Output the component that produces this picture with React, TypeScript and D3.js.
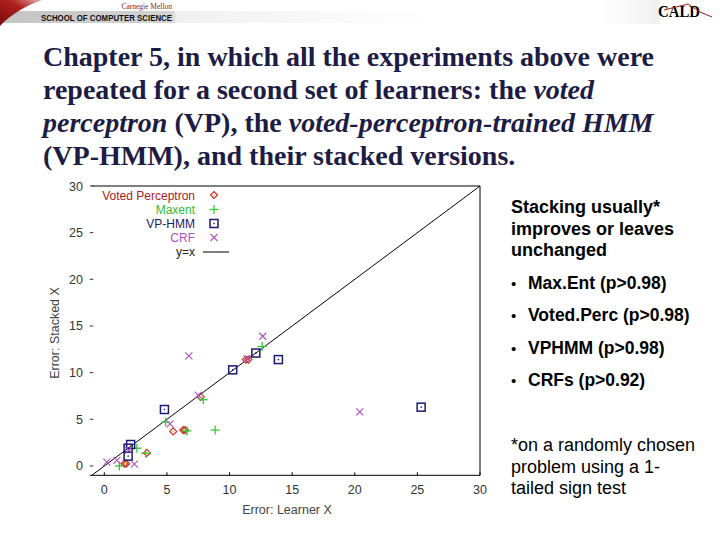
import React from "react";
import * as d3 from "d3";

const titleLines = [
  [{ t: "Chapter 5, in which all the experiments above were", i: false }],
  [{ t: "repeated for a second set of learners: the ", i: false }, { t: "voted", i: true }],
  [{ t: "perceptron", i: true }, { t: " (VP), the ", i: false }, { t: "voted-perceptron-trained HMM", i: true }],
  [{ t: "(VP-HMM), and their stacked versions.", i: false }],
];

const xTicks = [0, 5, 10, 15, 20, 25, 30];
const yTicks = [0, 5, 10, 15, 20, 25, 30];

const seriesNames = ["Voted Perceptron", "Maxent", "VP-HMM", "CRF"];

const vpX = [11.3, 11.5, 7.7, 6.3, 6.45, 5.5, 3.4, 1.6, 1.75];
const vpY = [11.4, 11.4, 7.4, 3.85, 3.85, 3.7, 1.4, 0.25, 0.25];

const meX = [12.6, 7.9, 4.9, 6.6, 8.85, 2.6, 1.2, 3.3];
const meY = [12.8, 7.1, 4.7, 3.75, 3.85, 1.9, 0.0, 1.35];

const hmmX = [13.9, 12.1, 10.25, 4.8, 25.3, 2.1, 1.9, 1.9];
const hmmY = [11.4, 12.1, 10.3, 6.05, 6.3, 2.3, 1.9, 1.05];

const crfX = [12.65, 6.75, 7.5, 5.25, 20.4, 2.4, 0.2, 1.0, 1.95, 11.4];
const crfY = [13.9, 11.8, 7.6, 4.5, 5.8, 0.2, 0.4, 0.6, 1.7, 11.5];

const rightLines = ["Stacking usually*", "improves or leaves", "unchanged"];
const bullets = ["Max.Ent (p>0.98)", "Voted.Perc (p>0.98)", "VPHMM (p>0.98)", "CRFs (p>0.92)"];
const footnote = ["*on a randomly chosen", "problem using a 1-", "tailed sign test"];

const colVP = "#cc3322";
const colME = "#33cc33";
const colHMM = "#1a1a70";
const colCRF = "#b050c0";

function Marker({ kind, cx, cy }: { kind: string; cx: number; cy: number }) {
  if (kind === "vp") {
    const r = 3.5;
    return (
      <g>
        <path d={`M${cx},${cy - r}L${cx + r},${cy}L${cx},${cy + r}L${cx - r},${cy}Z`} fill="none" stroke={colVP} strokeWidth={1.2} />
        <rect x={cx - 0.6} y={cy - 0.6} width={1.2} height={1.2} fill="#e0a020" />
      </g>
    );
  }
  if (kind === "me") {
    const r = 4.5;
    return (
      <g stroke={colME} strokeWidth={1.3}>
        <line x1={cx - r} x2={cx + r} y1={cy} y2={cy} />
        <line x1={cx} x2={cx} y1={cy - r} y2={cy + r} />
      </g>
    );
  }
  if (kind === "hmm") {
    const r = 4;
    return (
      <g>
        <rect x={cx - r} y={cy - r} width={2 * r} height={2 * r} fill="none" stroke={colHMM} strokeWidth={1.5} />
        <rect x={cx - 0.7} y={cy - 0.7} width={1.4} height={1.4} fill={colHMM} />
      </g>
    );
  }
  const r = 3.5;
  return (
    <g stroke={colCRF} strokeWidth={1.1}>
      <line x1={cx - r} x2={cx + r} y1={cy - r} y2={cy + r} />
      <line x1={cx - r} x2={cx + r} y1={cy + r} y2={cy - r} />
    </g>
  );
}

export default function App() {
  const x = d3.scaleLinear().domain([-1, 30]).range([91.8, 480]);
  const y = d3.scaleLinear().domain([-1, 30]).range([475.3, 186]);
  const left = x(-1), right = x(30), top = y(30), bottom = y(-1);

  const series = [
    { kind: "vp", xs: vpX, ys: vpY },
    { kind: "me", xs: meX, ys: meY },
    { kind: "hmm", xs: hmmX, ys: hmmY },
    { kind: "crf", xs: crfX, ys: crfY },
  ];
  const legendCols = ["#a82020", "#33bb33", colHMM, colCRF];
  const legendKinds = ["vp", "me", "hmm", "crf"];
  const legendY = [195, 209.5, 223.5, 237.5];
  const diag = d3.line<number>().x((d) => x(d)).y((d) => y(d));

  const plotFont = "'Liberation Sans', Arial, sans-serif";

  return (
    <svg width={720} height={540} style={{ position: "absolute", left: 0, top: 0, background: "#fff" }} xmlns="http://www.w3.org/2000/svg">
      <defs>
        <linearGradient id="band" x1="0" x2="1" y1="0" y2="0">
          <stop offset="0" stopColor="#c4c4c4" />
          <stop offset="0.24" stopColor="#d4d4d4" />
          <stop offset="0.245" stopColor="#f0f0f0" />
          <stop offset="0.6" stopColor="#ffffff" />
        </linearGradient>
        <linearGradient id="rband" x1="0" x2="1" y1="0" y2="0">
          <stop offset="0" stopColor="#ffffff" />
          <stop offset="1" stopColor="#e6e6e6" />
        </linearGradient>
        <linearGradient id="swoosh" x1="0" x2="1" y1="1" y2="0">
          <stop offset="0" stopColor="#7a0c0c" />
          <stop offset="0.6" stopColor="#b02020" />
          <stop offset="1" stopColor="#e8b0b0" />
        </linearGradient>
      </defs>
      <rect x={0} y={0} width={720} height={540} fill="#fff" />
      {/* header */}
      <rect x={0} y={11} width={720} height={12} fill="url(#band)" />
      <rect x={600} y={0} width={60} height={24} fill="url(#rband)" opacity={0.6} />
      <path d="M0,0 L42,0 C28,5 12,13 0,26 Z" fill="url(#swoosh)" />
      <text x={172} y={9} textAnchor="end" fontFamily="'Liberation Serif', serif" fontSize={7.5} fill="#8b1a1a">Carnegie Mellon</text>
      <text x={41} y={21} fontFamily={plotFont} fontWeight="bold" fontSize={9.8} fill="#111" textLength={131} lengthAdjust="spacingAndGlyphs">SCHOOL OF COMPUTER SCIENCE</text>
      <text x={658} y={17} fontFamily="'Liberation Serif', serif" fontWeight="bold" fontSize={17} fill="#000" textLength={42} lengthAdjust="spacingAndGlyphs">CALD</text>
      <path d="M664,10 L688,4 L700,12 L712,17" fill="none" stroke="#a02020" strokeWidth={1} />

      {/* title */}
      {titleLines.map((line, i) => (
        <text key={i} x={43} y={66 + i * 33} fontFamily="'Liberation Serif', 'Times New Roman', serif" fontWeight="bold" fontSize={28} fill="#1c1c44">
          {line.map((s, j) => (
            <tspan key={j} fontStyle={s.i ? "italic" : "normal"}>{s.t}</tspan>
          ))}
        </text>
      ))}

      {/* frame */}
      <g stroke="#000" strokeWidth={1} fill="none">
        <line x1={left} x2={right} y1={top} y2={top} />
        <line x1={right} x2={right} y1={top} y2={bottom} />
        <line x1={left - 2} x2={right} y1={bottom} y2={bottom} />
      </g>
      {/* x ticks */}
      {xTicks.map((t) => (
        <g key={"x" + t}>
          <line x1={x(t)} x2={x(t)} y1={bottom} y2={bottom - 3} stroke="#000" />
          <text x={x(t)} y={494} textAnchor="middle" fontFamily={plotFont} fontSize={12.5} fill="#333">{t}</text>
        </g>
      ))}
      {yTicks.map((t) => (
        <g key={"y" + t}>
          <line x1={left - 2} x2={left + 1.5} y1={y(t)} y2={y(t)} stroke="#333" />
          <text x={83} y={y(t) + 4.5} textAnchor="end" fontFamily={plotFont} fontSize={12.5} fill="#333">{t}</text>
        </g>
      ))}
      <text x={287} y={514} textAnchor="middle" fontFamily={plotFont} fontSize={12.5} fill="#444">Error: Learner X</text>
      <text transform={`translate(59,333) rotate(-90)`} textAnchor="middle" fontFamily={plotFont} fontSize={12.5} fill="#444">Error: Stacked X</text>

      {/* diagonal */}
      <path d={diag([-1, 30]) || ""} stroke="#000" strokeWidth={1} fill="none" />

      {/* points */}
      {series.map((s) =>
        s.xs.map((v, i) => <Marker key={s.kind + i} kind={s.kind} cx={x(v)} cy={y(s.ys[i])} />)
      )}

      {/* legend */}
      {seriesNames.map((n, i) => (
        <g key={n}>
          <text x={195} y={legendY[i] + 4.5} textAnchor="end" fontFamily={plotFont} fontSize={12} fill={legendCols[i]}>{n}</text>
          <Marker kind={legendKinds[i]} cx={214} cy={legendY[i]} />
        </g>
      ))}
      <text x={195} y={256} textAnchor="end" fontFamily={plotFont} fontSize={12} fill="#222">y=x</text>
      <line x1={203} x2={229} y1={252} y2={252} stroke="#000" />

      {/* right text */}
      {rightLines.map((l, i) => (
        <text key={l} x={511} y={213 + i * 21.5} fontFamily={plotFont} fontWeight="bold" fontSize={18} fill="#000">{l}</text>
      ))}
      {bullets.map((b, i) => (
        <g key={b}>
          <text x={511} y={289 + i * 32.3} fontFamily={plotFont} fontSize={15} fill="#000">•</text>
          <text x={528} y={289 + i * 32.3} fontFamily={plotFont} fontWeight="bold" fontSize={17.5} fill="#000">{b}</text>
        </g>
      ))}
      {footnote.map((l, i) => (
        <text key={l} x={511} y={451 + i * 21.5} fontFamily={plotFont} fontSize={18} fill="#000">{l}</text>
      ))}
    </svg>
  );
}
